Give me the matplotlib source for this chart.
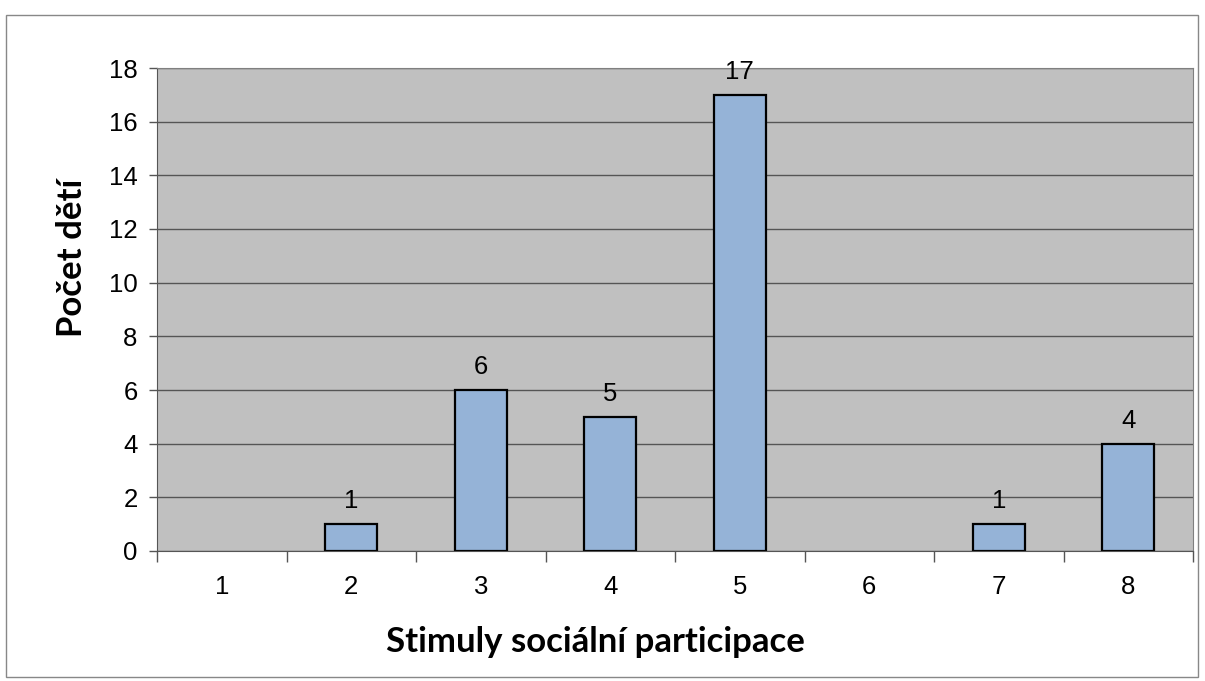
import numpy as np
import matplotlib.pyplot as plt
from matplotlib.patches import Rectangle

# Category labels and number of children per category.
categories = ["1", "2", "3", "4", "5", "6", "7", "8"]
counts = [0, 1, 6, 5, 17, 0, 1, 4]
y_ticks = [0, 2, 4, 6, 8, 10, 12, 14, 16, 18]

W, H = 1205, 681
fig = plt.figure(figsize=(W / 100, H / 100), dpi=100)
ax = fig.add_axes([157 / W, 1 - 551 / H, (1193 - 157) / W, (551 - 68) / H])

# Thin gray frame round the whole chart.
fig.add_artist(Rectangle((6 / W, 1 - 677 / H), 1192 / W, 662 / H,
                         transform=fig.transFigure, fill=False,
                         edgecolor="#888888", linewidth=1.0))

x = np.arange(len(categories))
ax.set_facecolor("#C0C0C0")
ax.set_axisbelow(True)
ax.yaxis.grid(True, color="#555555", linewidth=1.0)

# Empty categories get no outline so nothing shows on the baseline.
edges = ["black" if c > 0 else "none" for c in counts]
ax.bar(x, counts, width=0.4, color="#95B3D7", edgecolor=edges, linewidth=1.6)

# Value labels above the non-empty bars.
for xi, c in zip(x, counts):
    if c > 0:
        ax.text(xi, c + 0.4, str(c), ha="center", va="bottom",
                fontsize=18.5, family="Liberation Sans")

ax.set_xlim(-0.5, len(categories) - 0.5)
ax.set_ylim(0, 18)
ax.set_yticks(y_ticks)
ax.set_yticklabels([str(v) for v in y_ticks], fontsize=18.5, family="Liberation Sans")

# Category names in the middle, tick marks on the boundaries.
ax.set_xticks(x)
ax.set_xticklabels(categories, fontsize=18.5, family="Liberation Sans")
ax.tick_params(axis="x", which="major", length=0, pad=17)
ax.set_xticks(np.arange(len(categories) + 1) - 0.5, minor=True)
ax.tick_params(axis="x", which="minor", length=8, width=1, color="#555555", direction="out")
ax.tick_params(axis="y", length=6, width=1, color="#555555", pad=8)

for side in ["top", "right"]:
    ax.spines[side].set_color("#808080")
for side in ["left", "bottom"]:
    ax.spines[side].set_color("#555555")

# Axis titles placed by their baselines.
fig.text(595 / W, 1 - 652 / H, "Stimuly sociální participace", fontsize=25,
         fontweight="bold", family="Lato", ha="center", va="baseline")
fig.text(82 / W, 1 - 258 / H, "Počet dětí", fontsize=25, fontweight="bold",
         family="Lato", rotation=90, rotation_mode="anchor",
         ha="center", va="baseline")

fig.savefig("out.png", dpi=100)
